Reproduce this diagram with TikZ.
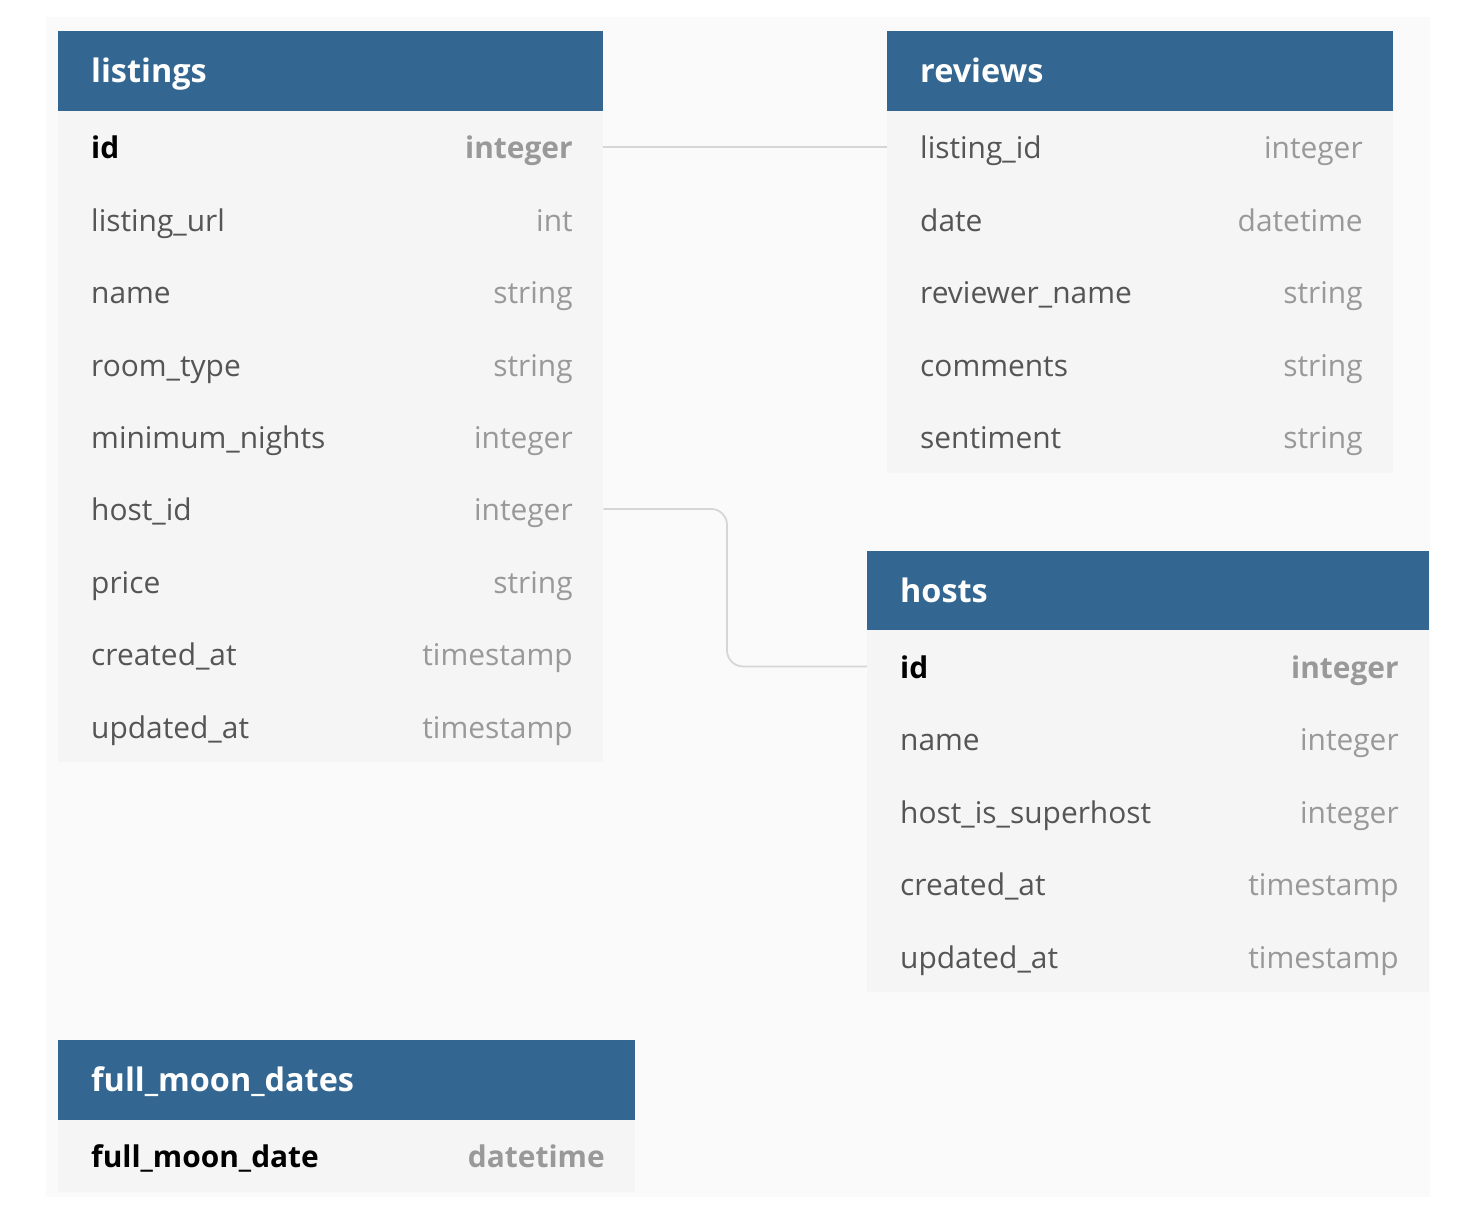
\documentclass[tikz,border=0pt]{standalone}
\usepackage{fontspec}
\setmainfont{Open Sans}
\usetikzlibrary{calc}
\definecolor{hdr}{HTML}{336791}
\definecolor{rowbg}{HTML}{F5F5F5}
\definecolor{canvas}{HTML}{FAFAFA}
\definecolor{fname}{HTML}{555555}
\definecolor{ftype}{HTML}{999999}
\definecolor{linkc}{HTML}{D6D6D6}
\newcommand\pkN{\bfseries\color{black}}
\newcommand\pkT{\bfseries\color{ftype}}
\newcommand\fdN{\color{fname}}
\newcommand\fdT{\color{ftype}}
\tikzset{
  hdrbox/.style={fill=hdr, draw=none, anchor=north west, inner sep=0pt, minimum height=79.5pt},
  rowbox/.style={fill=rowbg, draw=none, anchor=north west, inner sep=0pt, minimum height=72.4pt},
  hdrtext/.style={anchor=base west, inner sep=0pt, text=white, font=\fontsize{32.4}{38}\selectfont\bfseries},
  celltext/.style={inner sep=0pt, font=\fontsize{29.9}{36}\selectfont},
  link/.style={draw=linkc, line width=1.8pt, rounded corners=16pt}
}
% #1 prefix, #2 x, #3 top y, #4 width, #5 title, #6 rows
\newcommand\ertable[6]{%
  \node[hdrbox, minimum width=#4pt] (#1) at (#2,-#3) {};
  \node[hdrtext] (#1-title) at ($(#1.west)+(33,-12)$) {#5};
  \foreach \n/\t/\k [count=\i] in {#6} {
    \node[rowbox, minimum width=#4pt] (#1-\i) at (#2,{-#3-79.5-(\i-1)*72.4}) {};
    \node[celltext, anchor=base west] (#1-\i-n) at ($(#1-\i.west)+(33,-12)$) {\csname\k N\endcsname\n};
    \node[celltext, anchor=base east] (#1-\i-t) at ($(#1-\i.east)+(-30.5,-12)$) {\csname\k T\endcsname\t};
  }
}
\begin{document}
\begin{tikzpicture}[x=1pt,y=1pt]
\useasboundingbox (0,0) rectangle (1460,-1208);
\fill[white] (0,0) rectangle (1460,-1208);
\fill[canvas] (46,-17) rectangle (1430,-1197);

\ertable{L}{58}{31}{545}{listings}{id/integer/pk, listing\_url/int/fd, name/string/fd, room\_type/string/fd, minimum\_nights/integer/fd, host\_id/integer/fd, price/string/fd, created\_at/timestamp/fd, updated\_at/timestamp/fd}

\ertable{R}{887}{31}{506}{reviews}{listing\_id/integer/fd, date/datetime/fd, reviewer\_name/string/fd, comments/string/fd, sentiment/string/fd}

\ertable{H}{867}{550.5}{562}{hosts}{id/integer/pk, name/integer/fd, host\_is\_superhost/integer/fd, created\_at/timestamp/fd, updated\_at/timestamp/fd}

\ertable{F}{58}{1040}{577}{full\_moon\_dates}{full\_moon\_date/datetime/pk}

\draw[link] (L-1.east) -- (R-1.west);
\coordinate (bend) at (727,0);
\draw[link] (L-6.east) -- (L-6.east -| bend) -- (H-1.west -| bend) -- (H-1.west);
\end{tikzpicture}
\end{document}
